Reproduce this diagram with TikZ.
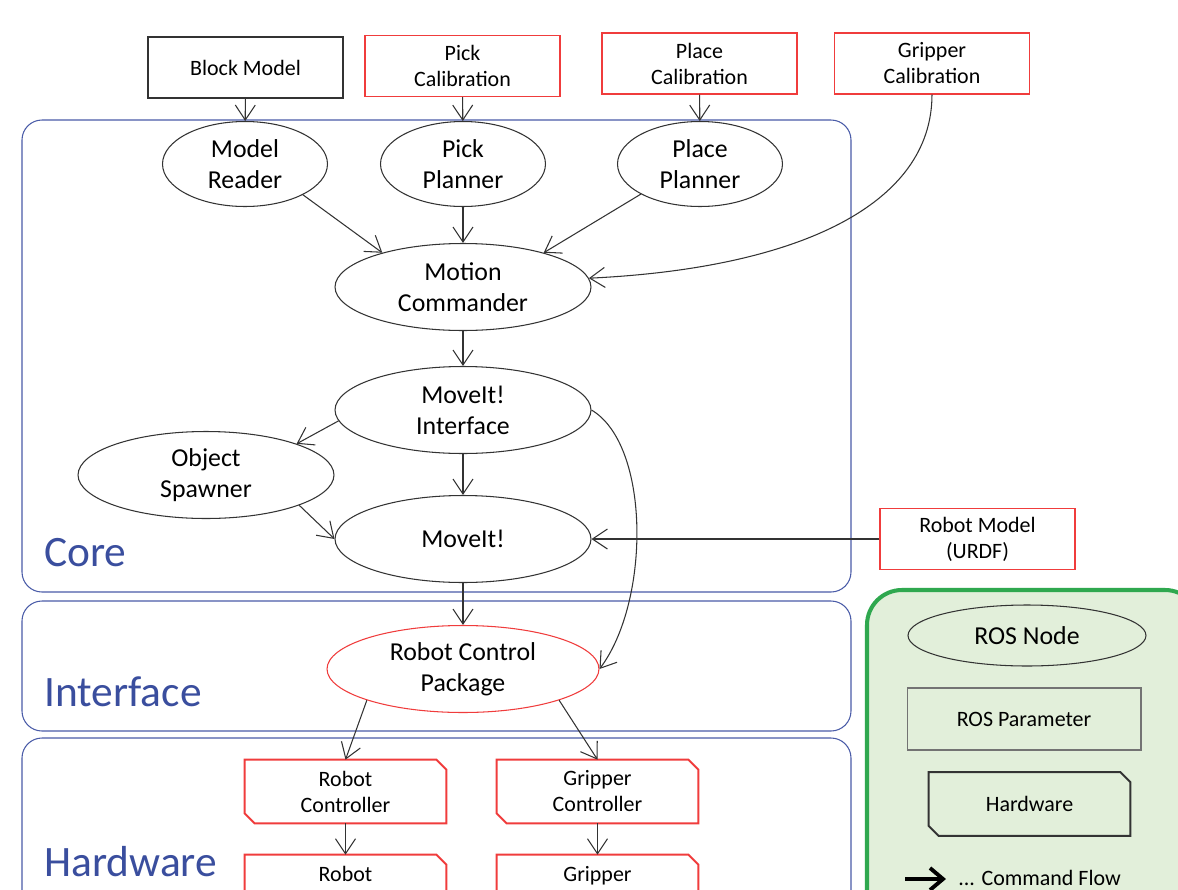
\documentclass[tikz,border=0pt]{standalone}
\usepackage{fontspec}
\setmainfont{Carlito}
\usepackage{tikz}
\usetikzlibrary{arrows.meta,positioning,shapes.geometric}
\definecolor{laneblue}{HTML}{4A5CA8}
\definecolor{labelblue}{HTML}{3A4E9E}
\definecolor{calibred}{HTML}{F03C3C}
\definecolor{legendgreen}{HTML}{2FA84F}
\definecolor{legendfill}{HTML}{E2EFDA}
\definecolor{inkgray}{HTML}{333333}
\newcommand{\smalltxt}{\fontsize{12.5}{14.8}\selectfont}
\newcommand{\bigtxt}{\fontsize{14.7}{17.6}\selectfont}
\newcommand{\lanetxt}{\fontsize{24.7}{29}\selectfont}
% chamfered outline for hardware boxes
\newcommand{\hwframe}[2]{\draw[#2] (#1.north west) -- ([xshift=-2mm]#1.north east) -- ([yshift=-2mm]#1.north east) -- (#1.south east) -- ([xshift=2mm]#1.south west) -- ([yshift=2mm]#1.south west) -- cycle;}
\tikzset{
  param/.style={rectangle,draw=inkgray,line width=0.6pt,fill=white,align=center,minimum width=3.9cm,minimum height=1.22cm,font=\smalltxt},
  calib/.style={param,draw=calibred},
  rosnode/.style={ellipse,draw=inkgray,line width=0.6pt,fill=white,align=center,inner sep=0pt,minimum width=3.3cm,minimum height=1.7cm,font=\bigtxt},
  widenode/.style={rosnode,minimum width=5.12cm,minimum height=1.74cm},
  hwbox/.style={rectangle,align=center,minimum width=4.02cm,minimum height=1.26cm,font=\smalltxt},
  lane/.style={draw=laneblue,line width=0.6pt,rounded corners=0.4cm},
  lanelabel/.style={anchor=west,text=labelblue,font=\lanetxt,inner sep=0pt},
  flow/.style={-{Straight Barb[length=3mm,width=4mm]},draw=inkgray,line width=0.6pt}
}
\begin{document}
\begin{tikzpicture}[x=0.02cm,y=-0.02cm]
\clip (0,0) rectangle (1178,890);
\fill[white] (0,0) rectangle (1178,890);
% lanes
\draw[lane] (22,120) rectangle (851,592);
\draw[lane] (22,601) rectangle (851,731);
\draw[lane] (22,738) rectangle (851,930);
\node[lanelabel] (corelbl) at (44,553) {Core};
\node[lanelabel] (iflbl) at (44,692) {Interface};
\node[lanelabel] (hwlbl) at (44,862) {Hardware};
% parameters
\node[param] (bm) at (245.5,67.5) {Block Model};
\node[calib] (pc) at (462.5,66) {Pick\\Calibration};
\node[calib] (plc) at (699.5,63.5) {Place\\Calibration};
\node[calib] (gc) at (932,63.5) {Gripper\\Calibration};
\node[calib] (rm) at (977.5,539) {Robot Model\\(URDF)};
% ros nodes
\node[rosnode] (mr) at (245,164) {Model\\Reader};
\node[rosnode] (pp) at (463,164) {Pick\\Planner};
\node[rosnode] (plp) at (700,164) {Place\\Planner};
\node[widenode] (mc) at (463,287) {Motion\\Commander};
\node[widenode] (mi) at (463,410) {MoveIt!\\Interface};
\node[widenode] (os) at (206,475) {Object\\Spawner};
\node[widenode] (mv) at (463,539) {MoveIt!};
\node[widenode,draw=calibred,minimum width=5.44cm] (rcp) at (463,669) {Robot Control\\Package};
% hardware
\node[hwbox] (rc) at (345.5,791.5) {Robot\\Controller};
\node[hwbox] (gcn) at (597.5,791.5) {Gripper\\Controller};
\node[hwbox] (rob) at (345.5,886.5) {Robot\\\mbox{}};
\node[hwbox] (grp) at (597.5,886.5) {Gripper\\\mbox{}};
\hwframe{rc}{calibred,line width=1.1pt}
\hwframe{gcn}{calibred,line width=1.1pt}
\hwframe{rob}{calibred,line width=1.1pt}
\hwframe{grp}{calibred,line width=1.1pt}
% command flow
\draw[flow] (bm) -- (mr);
\draw[flow] (pc) -- (pp);
\draw[flow] (plc) -- (plp);
\draw[flow] (gc.south) .. controls +(0,110) and +(210,-10) .. (mc.4);
\draw[flow] (mr.-28) -- (mc.157);
\draw[flow] (pp) -- (mc);
\draw[flow] (plp.-153) -- (mc.23);
\draw[flow] (mc) -- (mi);
\draw[flow] (mi.185) -- (os.19);
\draw[flow] (mi) -- (mv);
\draw[flow] (os.-18) -- (mv.west);
\draw[flow] (rm) -- (mv);
\draw[flow] (mv) -- (rcp);
\draw[flow] (mi.east) .. controls +(59,35) and +(51,-68) .. (rcp.east);
\draw[flow] (rcp.-162) -- (rc.north);
\draw[flow] (rcp.-18) -- (gcn.north);
\draw[flow] (rc) -- (rob);
\draw[flow] (gcn) -- (grp);
% legend
\draw[draw=legendgreen,fill=legendfill,line width=2.3pt,rounded corners=0.7cm] (867,590) rectangle (1200,930);
\node[rosnode,fill=none,minimum width=4.76cm,minimum height=1.22cm] (lgnode) at (1027,635.5) {ROS Node};
\node[param,fill=none,draw=black!55,minimum width=4.68cm,minimum height=1.24cm] (lgparam) at (1024,719) {ROS Parameter};
\node[hwbox] (lghw) at (1029.5,804) {Hardware};
\hwframe{lghw}{inkgray,line width=1.1pt}
\coordinate (lgfrom) at (905,879);
\coordinate (lgto) at (946,879);
\draw[-{Straight Barb[length=2.6mm,width=4.4mm]},line width=2.2pt] (lgfrom) -- (lgto);
\node[anchor=west,font=\smalltxt,inner sep=0pt] (lgtext) at (958,878) {... Command Flow};
\end{tikzpicture}
\end{document}
